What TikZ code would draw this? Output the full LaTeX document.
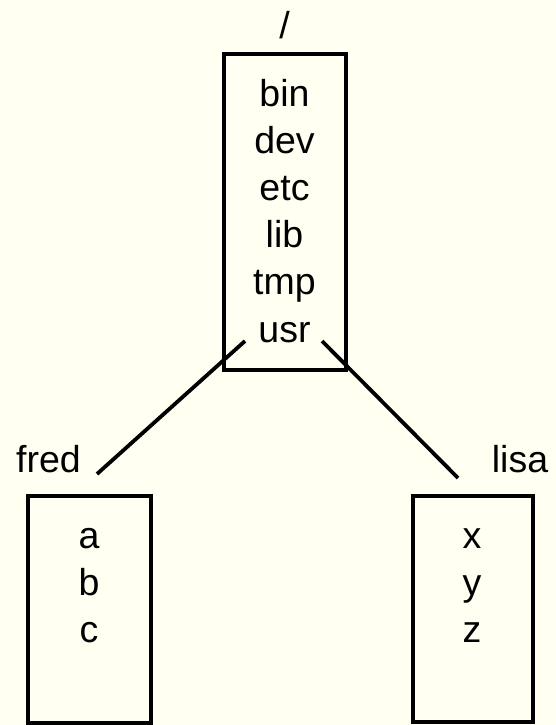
\documentclass[tikz,border=0pt]{standalone}
\usepackage{fontspec}
\setmainfont{Liberation Sans}
\definecolor{bgcol}{RGB}{255,255,242}
\begin{document}
\begin{tikzpicture}[x=1pt,y=-1pt,
  dirbox/.style={draw=black,line width=4pt,rectangle,inner sep=0pt},
  lbl/.style={anchor=base,inner sep=0pt,font=\fontsize{37.5}{45}\selectfont},
  link/.style={draw=black,line width=3.8pt}]
\fill[bgcol] (0,0) rectangle (556,725);
\useasboundingbox (0,0) rectangle (556,725);
% boxes
\node[dirbox,minimum width=122.5pt,minimum height=316pt] (root) at (284.75,212) {};
\node[dirbox,minimum width=123pt,minimum height=226.5pt] (fredbox) at (89.5,609.25) {};
\node[dirbox,minimum width=120pt,minimum height=226pt] (lisabox) at (473,609) {};
% labels
\node[lbl] (slash) at (284.5,38) {/};
\node[lbl] (fred) at (48.5,472) {fred};
\node[lbl] (lisa) at (520,472) {lisa};
% root contents
\node[lbl] (bin) at (284.5,106) {bin};
\node[lbl] (dev) at (284.5,153.2) {dev};
\node[lbl] (etc) at (284.5,200.4) {etc};
\node[lbl] (lib) at (284.5,247.6) {lib};
\node[lbl] (tmp) at (284.5,294.8) {tmp};
\node[lbl] (usr) at (284.5,342) {usr};
% fred contents
\node[lbl] (fa) at (89,548) {a};
\node[lbl] (fb) at (89,595) {b};
\node[lbl] (fc) at (89,642) {c};
% lisa contents
\node[lbl] (lx) at (472,548) {x};
\node[lbl] (ly) at (472,595) {y};
\node[lbl] (lz) at (472,642) {z};
% connectors
\coordinate (usrL) at (245,341);
\coordinate (usrR) at (322,341);
\coordinate (fredEnd) at (97,474);
\coordinate (lisaEnd) at (458,478);
\draw[link] (usrL) -- (fredEnd);
\draw[link] (usrR) -- (lisaEnd);
\end{tikzpicture}
\end{document}
